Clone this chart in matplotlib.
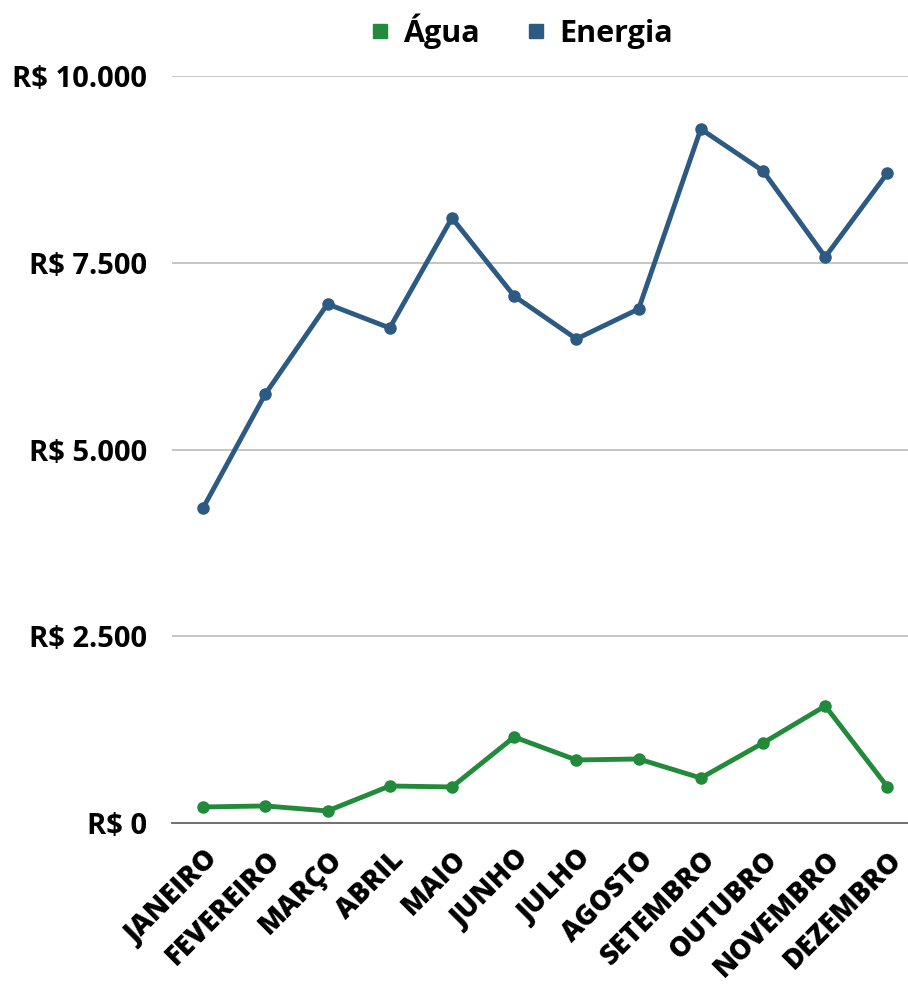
import matplotlib.pyplot as plt

# dados
meses = ['JANEIRO', 'FEVEREIRO', 'MARÇO', 'ABRIL', 'MAIO', 'JUNHO',
         'JULHO', 'AGOSTO', 'SETEMBRO', 'OUTUBRO', 'NOVEMBRO', 'DEZEMBRO']
agua = [214, 228, 161, 495, 482, 1151, 843, 857, 602, 1071, 1567, 482]
energia = [4217, 5743, 6948, 6627, 8100, 7055, 6480, 6881, 9291, 8729, 7578, 8702]
yticks = [0, 2500, 5000, 7500, 10000]
ytick_labels = ['R$ 0', 'R$ 2.500', 'R$ 5.000', 'R$ 7.500', 'R$ 10.000']

cor_agua = '#228a3b'
cor_energia = '#2c5a82'

fig = plt.figure(figsize=(9.08, 9.85), dpi=100)
ax = fig.add_axes([0.1894, 0.1645, 0.8106, 0.7583])

x = list(range(len(meses)))
ax.plot(x, agua, color=cor_agua, lw=3.5, marker='o', ms=8, label='Água')
ax.plot(x, energia, color=cor_energia, lw=3.5, marker='o', ms=8, label='Energia')

ax.set_xlim(-0.5, 11.33)
ax.set_ylim(0, 10000)
ax.set_yticks(yticks)
ax.set_yticklabels(ytick_labels, fontfamily='Open Sans', fontweight='bold', fontsize=21)
ax.set_xticks(x)
ax.set_xticklabels(meses, rotation=45, ha='right', rotation_mode='anchor',
                   fontfamily='Open Sans', fontweight='heavy', fontsize=20)
ax.tick_params(length=0)
ax.tick_params(axis='x', pad=16)
ax.tick_params(axis='y', pad=18)

ax.grid(axis='y', color='#c0c0c0', lw=1.3)
ax.set_axisbelow(True)
for s in ['top', 'right', 'left']:
    ax.spines[s].set_visible(False)
ax.spines['bottom'].set_color('#666666')
ax.spines['bottom'].set_linewidth(1.3)

ax.legend(loc='lower center', bbox_to_anchor=(0.476, 1.0), ncol=2, frameon=False,
          handlelength=0.5, handletextpad=0.5, columnspacing=1.6,
          prop={'family': 'Open Sans', 'weight': 'bold', 'size': 22})
leg = ax.get_legend()
for h in leg.legend_handles:
    h.set_marker('s')
    h.set_linestyle('')
    h.set_markersize(10)

plt.savefig('out.png', dpi=100)
